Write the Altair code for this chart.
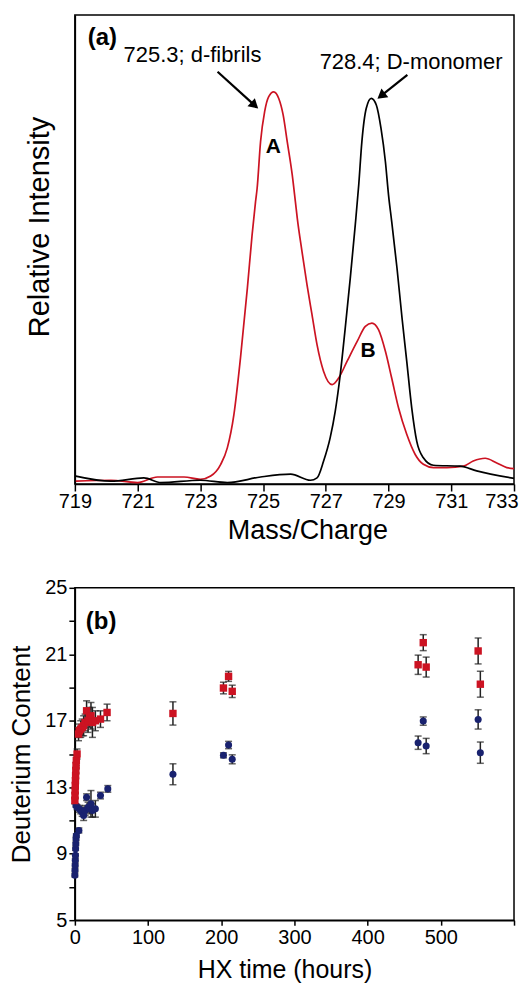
import math
import altair as alt
import pandas as pd

FONT = "Liberation Sans"

# ---------------- Panel (a): mass spectra ----------------
mz_red = [719.03, 720.15, 721.0, 721.63, 722.48, 723.0, 723.33, 723.65, 723.86, 724.07,
          724.28, 724.5, 724.65, 724.76, 724.81, 724.92, 725.05, 725.18, 725.34, 725.5,
          725.64, 725.77, 725.93, 726.03, 726.09, 726.24, 726.4, 726.56, 726.72, 726.93,
          727.2, 727.41, 727.68, 728.0, 728.26, 728.47, 728.68, 728.9, 729.1, 729.32,
          729.58, 729.85, 730.11, 730.43, 730.86, 731.39, 731.7, 732.08, 732.45, 732.77, 733.0]
int_red = [0.006, 0.008, 0.003, 0.015, 0.015, 0.010, 0.017, 0.042, 0.077, 0.148,
           0.269, 0.418, 0.531, 0.602, 0.630, 0.730, 0.794, 0.826, 0.836, 0.822,
           0.787, 0.730, 0.659, 0.602, 0.567, 0.496, 0.425, 0.361, 0.297, 0.240,
           0.212, 0.226, 0.262, 0.304, 0.336, 0.343, 0.329, 0.283, 0.226, 0.162,
           0.106, 0.063, 0.042, 0.035, 0.035, 0.038, 0.049, 0.055, 0.045, 0.035, 0.033]

mz_black = [719.03, 720.15, 721.2, 721.74, 723.0, 723.86, 724.92, 725.88, 726.51, 726.72,
            726.93, 727.14, 727.3, 727.46, 727.62, 727.78, 727.94, 728.05, 728.15, 728.29,
            728.45, 728.61, 728.76, 728.9, 729.0, 729.1, 729.27, 729.43, 729.58, 729.74,
            729.9, 730.11, 730.43, 731.28, 731.81, 733.0]
int_black = [0.017, 0.006, 0.013, 0.003, 0.008, 0.003, 0.015, 0.021, 0.008, 0.013,
             0.049, 0.099, 0.155, 0.233, 0.333, 0.439, 0.553, 0.638, 0.730, 0.801,
             0.822, 0.808, 0.758, 0.687, 0.616, 0.560, 0.460, 0.354, 0.262, 0.162,
             0.091, 0.056, 0.040, 0.038, 0.028, 0.012]

mz_ticks = [719, 721, 723, 725, 727, 729, 731, 733]

# annotations of panel (a)
ann_text = ["(a)", "725.3; d-fibrils", "728.4; D-monomer", "A", "B"]
ann_x = [719.41, 722.75, 729.72, 725.33, 728.35]
ann_y = [0.950, 0.914, 0.899, 0.719, 0.283]
ann_bold = [True, False, False, True, True]

arrow_x0 = [723.55, 729.60]
arrow_y0 = [0.879, 0.872]
arrow_x1 = [724.85, 728.64]
arrow_y1 = [0.800, 0.821]

# ---------------- Panel (b): deuterium uptake ----------------
t_red = [0, 0.2, 0.4, 0.6, 0.8, 1.0, 1.3, 1.6, 2, 3, 5, 6, 8, 10, 12, 14, 16, 18, 20, 22,
         24, 28, 35, 44, 134, 203, 210, 215, 469, 476, 480, 551, 554]
d_red = [12.2, 12.5, 12.8, 13.1, 13.4, 13.7, 14.0, 14.3, 14.6, 15.0, 16.2, 16.4, 16.5, 16.6,
         16.7, 16.9, 17.6, 17.0, 17.2, 17.3, 16.9, 17.0, 17.1, 17.5, 17.44, 18.97, 19.67,
         18.77, 20.37, 21.7, 20.23, 21.2, 19.2]
e_red = [0.2, 0.2, 0.2, 0.2, 0.2, 0.2, 0.2, 0.2, 0.3, 0.3, 0.4, 0.4, 0.5, 0.5, 0.6, 0.5,
         0.6, 0.7, 0.6, 0.8, 0.9, 0.6, 0.5, 0.5, 0.7, 0.35, 0.3, 0.37, 0.58, 0.48, 0.6,
         0.78, 0.78]

t_blue = [0, 0.2, 0.4, 0.6, 0.8, 1.0, 1.3, 1.6, 2, 1.5, 3, 5.5, 6, 8, 10, 12, 14, 16, 18,
          20, 22, 24, 28, 35, 45, 134, 203, 210, 215, 469, 476, 480, 551, 554]
d_blue = [7.7, 8.0, 8.3, 8.6, 8.9, 9.3, 9.6, 9.9, 10.1, 11.9, 11.8, 10.4, 11.7, 11.6, 11.5,
          11.3, 11.6, 12.4, 11.8, 11.7, 12.0, 11.6, 11.7, 12.5, 12.9, 13.78, 14.92, 15.54,
          14.68, 15.68, 16.98, 15.48, 17.08, 15.08]
e_blue = [0.1, 0.1, 0.1, 0.1, 0.1, 0.1, 0.1, 0.1, 0.1, 0.1, 0.15, 0.15, 0.2, 0.2, 0.25, 0.3,
          0.3, 0.2, 0.3, 0.3, 0.8, 0.4, 0.5, 0.2, 0.2, 0.63, 0.15, 0.22, 0.27, 0.4, 0.25,
          0.46, 0.58, 0.64]

RED = "#cc1322"
BLUE = "#19226f"

# ---------------- build panel (a) ----------------
W, HA, HB = 440, 470, 333
spec = pd.DataFrame(
    {"mz": mz_red + mz_black,
     "inten": int_red + int_black,
     "series": ["red"] * len(mz_red) + ["black"] * len(mz_black)}
)

xa_scale = alt.Scale(domain=[719, 733], nice=False, zero=False)
ya_scale = alt.Scale(domain=[0, 1], nice=False)
xa_axis = alt.Axis(values=mz_ticks, title="Mass/Charge", format="d",
                   tickSize=7, labelPadding=1, titlePadding=6, labelFlush=False,
                   titleX=233,
                   labelAlign={"condition": {"test": "datum.value == 733", "value": "right"},
                               "value": "center"},
                   labelOffset={"condition": {"test": "datum.value == 733", "value": 4},
                                "value": 0})
ya_axis = alt.Axis(title="Relative Intensity", labels=False, ticks=False,
                   titlePadding=20, titleFontSize=29, titleY=212)

lines = alt.Chart(spec).mark_line(strokeWidth=1.7, interpolate="monotone").encode(
    x=alt.X("mz:Q", scale=xa_scale, axis=xa_axis),
    y=alt.Y("inten:Q", scale=ya_scale, axis=ya_axis),
    color=alt.Color("series:N", scale=alt.Scale(domain=["red", "black"], range=[RED, "black"]),
                    legend=None),
    detail="series:N",
)

ann = pd.DataFrame({"text": ann_text, "mz": ann_x, "inten": ann_y, "bold": ann_bold})
t_plain = alt.Chart(ann[~ann["bold"]]).mark_text(
    font=FONT, fontSize=22, align="center", baseline="middle", color="black"
).encode(x=alt.X("mz:Q", scale=xa_scale, axis=xa_axis),
         y=alt.Y("inten:Q", scale=ya_scale, axis=ya_axis), text="text:N")
t_a = alt.Chart(ann[ann["text"] == "(a)"]).mark_text(
    font=FONT, fontSize=24, fontWeight="bold", align="left", baseline="middle", color="black"
).encode(x=alt.X("mz:Q", scale=xa_scale, axis=xa_axis),
         y=alt.Y("inten:Q", scale=ya_scale, axis=ya_axis), text="text:N")
t_AB = alt.Chart(ann[ann["bold"] & (ann["text"] != "(a)")]).mark_text(
    font=FONT, fontSize=21, fontWeight="bold", align="center", baseline="middle", color="black"
).encode(x=alt.X("mz:Q", scale=xa_scale, axis=xa_axis),
         y=alt.Y("inten:Q", scale=ya_scale, axis=ya_axis), text="text:N")

# arrows
pxu = W / 14.0
pyu = HA / 1.0
rows = []
for x0, y0, x1, y1 in zip(arrow_x0, arrow_y0, arrow_x1, arrow_y1):
    dx = (x1 - x0) * pxu
    dy = -(y1 - y0) * pyu
    L = math.hypot(dx, dy)
    ang = math.degrees(math.atan2(dx, -dy)) % 360
    hx = x1 - (dx / L) * 5.0 / pxu
    hy = y1 + (dy / L) * 5.0 / pyu
    sx = x1 - (dx / L) * 8 / pxu
    sy = y1 + (dy / L) * 8 / pyu
    rows.append({"mz": x0, "inten": y0, "xs": sx, "ys": sy, "hx": hx, "hy": hy, "ang": ang})
arr = pd.DataFrame(rows)
shafts = alt.Chart(arr).mark_rule(strokeWidth=2.2, color="black").encode(
    x=alt.X("mz:Q", scale=xa_scale, axis=xa_axis),
    y=alt.Y("inten:Q", scale=ya_scale, axis=ya_axis), x2="xs:Q", y2="ys:Q")
heads = alt.Chart(arr).mark_point(shape="triangle-up", filled=True, color="black",
                                  size=120, opacity=1).encode(
    x=alt.X("hx:Q", scale=xa_scale, axis=xa_axis),
    y=alt.Y("hy:Q", scale=ya_scale, axis=ya_axis),
    angle=alt.Angle("ang:Q", scale=None))

panel_a = alt.layer(lines, shafts, heads, t_plain, t_a, t_AB).properties(width=W, height=HA)

# ---------------- build panel (b) ----------------
red = pd.DataFrame({"t": t_red, "d": d_red, "e": e_red})
blue = pd.DataFrame({"t": t_blue, "d": d_blue, "e": e_blue})
for df in (red, blue):
    df["lo"] = df["d"] - df["e"]
    df["hi"] = df["d"] + df["e"]

xb_scale = alt.Scale(domain=[0, 600], nice=False)
yb_scale = alt.Scale(domain=[5, 25], nice=False)
xb_axis = alt.Axis(values=[0, 100, 200, 300, 400, 500, 600], title="HX time (hours)",
                   labelExpr="datum.value < 600 ? datum.label : ''", tickSize=5,
                   labelPadding=2, titlePadding=10, labelFlush=False, titleFontSize=25,
                   titleX=210)
yb_axis = alt.Axis(values=list(range(5, 26, 2)), title="Deuterium Content",
                   labelExpr="(datum.value - 5) % 4 == 0 ? datum.label : ''",
                   tickSize=6, labelPadding=2, titlePadding=10, titleFontSize=26)


def err_layers(df):
    base = alt.Chart(df)
    r = base.mark_rule(color="#222222", strokeWidth=1.5).encode(
        x=alt.X("t:Q", scale=xb_scale, axis=xb_axis),
        y=alt.Y("lo:Q", scale=yb_scale, axis=yb_axis), y2="hi:Q")
    c1 = base.mark_tick(color="#222222", orient="horizontal", size=7, thickness=1.5).encode(
        x=alt.X("t:Q", scale=xb_scale, axis=xb_axis),
        y=alt.Y("lo:Q", scale=yb_scale, axis=yb_axis))
    c2 = base.mark_tick(color="#222222", orient="horizontal", size=7, thickness=1.5).encode(
        x=alt.X("t:Q", scale=xb_scale, axis=xb_axis),
        y=alt.Y("hi:Q", scale=yb_scale, axis=yb_axis))
    return [r, c1, c2]


pts_red = alt.Chart(red).mark_square(size=55, color=RED, opacity=1).encode(
    x=alt.X("t:Q", scale=xb_scale, axis=xb_axis), y=alt.Y("d:Q", scale=yb_scale, axis=yb_axis))
pts_blue = alt.Chart(blue).mark_circle(size=50, color=BLUE, opacity=1).encode(
    x=alt.X("t:Q", scale=xb_scale, axis=xb_axis), y=alt.Y("d:Q", scale=yb_scale, axis=yb_axis))

lab_b = alt.Chart(pd.DataFrame({"text": ["(b)"], "t": [15], "d": [22.96]})).mark_text(
    font=FONT, fontSize=24, fontWeight="bold", align="left", baseline="middle", color="black"
).encode(x=alt.X("t:Q", scale=xb_scale, axis=xb_axis),
         y=alt.Y("d:Q", scale=yb_scale, axis=yb_axis), text="text:N")

panel_b = alt.layer(*err_layers(blue), *err_layers(red), pts_blue, pts_red, lab_b).properties(
    width=W, height=HB)

chart = alt.vconcat(panel_a, panel_b, spacing=32).properties(
    padding={"left": 0, "top": 5, "right": 0, "bottom": 0}
).configure_view(stroke="black", strokeWidth=1.5).configure_axis(
    labelFont=FONT, titleFont=FONT, labelFontSize=20, titleFontSize=27,
    titleFontWeight="normal", labelColor="black", titleColor="black",
    domainColor="black", tickColor="black", domainWidth=1.5, tickWidth=1.5, grid=False
)

chart.save("out.html", embed_options={"renderer": "svg", "actions": False})
